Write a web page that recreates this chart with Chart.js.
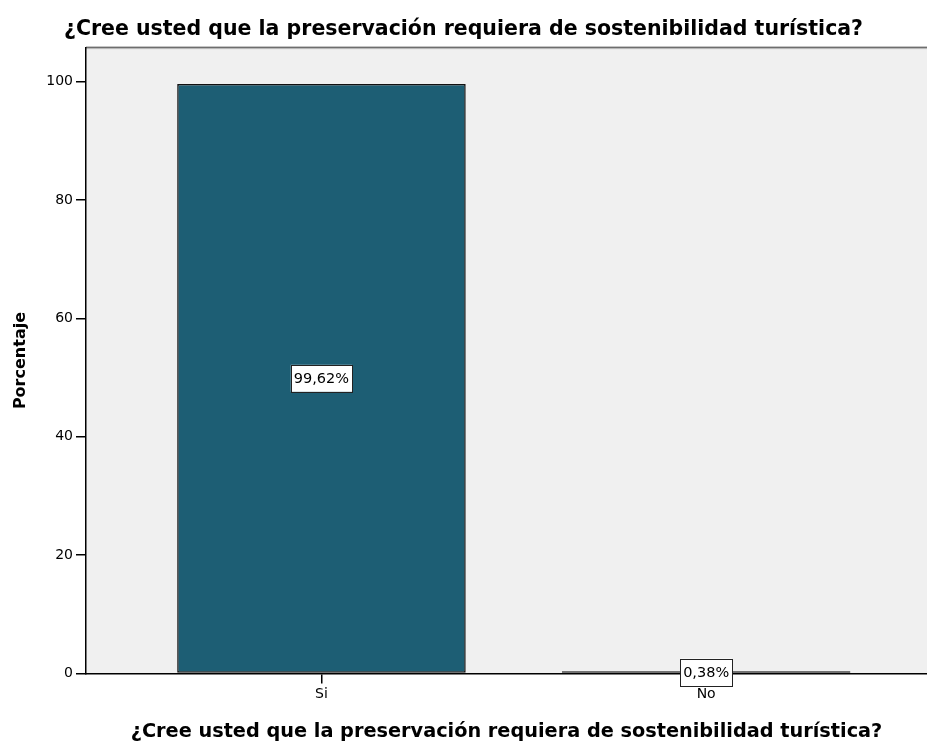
<!DOCTYPE html>
<html>
<head>
<meta charset="utf-8">
<script src="https://cdn.jsdelivr.net/npm/chart.js@4.4.1/dist/chart.umd.min.js"></script>
<style>
  html, body { margin: 0; padding: 0; background: #fff; }
  #wrap { width: 927px; height: 742px; }
</style>
</head>
<body>
<div id="wrap"><canvas id="chart"></canvas></div>
<script>
// ─── Data ──────────────────────────────────────────────────────────────
const question    = "¿Cree usted que la preservación requiera de sostenibilidad turística?";
const categories  = ["Si", "No"];
const percentages = [99.62, 0.38];
const valueLabels = ["99,62%", "0,38%"];
const yTicks      = [0, 20, 40, 60, 80, 100];

const FONT = "'DejaVu Sans', 'Liberation Sans', Arial, sans-serif";

// plot frame: grey panel, top rule, bottom axis up to the edge
const framePlugin = {
  id: "frame",
  beforeDraw(chart) {
    const { ctx, chartArea: a } = chart;
    ctx.save();
    ctx.fillStyle = "#f0f0f0";
    ctx.fillRect(a.left, a.top, chart.width - a.left, a.bottom - a.top);
    ctx.fillStyle = "#6e6e6e";
    ctx.fillRect(a.left, a.top - 1, chart.width - a.left, 1.5);
    ctx.fillStyle = "#b4b4b4";
    ctx.fillRect(a.left, a.top + 0.5, chart.width - a.left, 1);
    ctx.restore();
  }
};

// boxed value labels in the middle of each bar
const boxLabels = {
  id: "boxLabels",
  afterDatasetsDraw(chart) {
    const { ctx } = chart;
    const meta = chart.getDatasetMeta(0);
    ctx.save();
    ctx.font = "14.5px " + FONT;
    ctx.textAlign = "center";
    ctx.textBaseline = "middle";
    meta.data.forEach((bar, i) => {
      const txt = valueLabels[i];
      const cx = bar.x;
      const cy = (bar.y + bar.base) / 2;
      const w = ctx.measureText(txt).width + 6;
      const h = 27;
      ctx.fillStyle = "#fff";
      ctx.fillRect(cx - w / 2, cy - h / 2, w, h);
      ctx.strokeStyle = "#222";
      ctx.lineWidth = 1;
      ctx.strokeRect(Math.round(cx - w / 2) + 0.5, Math.round(cy - h / 2) + 0.5, Math.round(w), h);
      ctx.fillStyle = "#000";
      ctx.fillText(txt, cx, cy + 1);
    });
    ctx.restore();
  }
};

new Chart(document.getElementById("chart"), {
  type: "bar",
  data: {
    datasets: [{
      data: percentages.map((v, i) => ({ x: i, y: v })),
      backgroundColor: "#1d5e74",
      borderColor: "#111",
      borderWidth: 1.5,
      borderSkipped: false,
      barPercentage: 0.75,
      categoryPercentage: 1
    }]
  },
  options: {
    responsive: true,
    maintainAspectRatio: false,
    animation: false,
    layout: { padding: 0 },
    plugins: {
      legend: { display: false },
      tooltip: { enabled: false },
      title: {
        display: true,
        text: question,
        color: "#000",
        font: { family: FONT, size: 20.5, weight: "bold", lineHeight: 1.2 },
        padding: { top: 17, bottom: 6 }
      }
    },
    scales: {
      x: {
        type: "linear",
        offset: false,
        min: -0.612,
        max: 1.574,
        afterBuildTicks: s => { s.ticks = categories.map((c, i) => ({ value: i })); },
        afterFit: s => { s.height = 68.5; },
        grid: { offset: false, drawOnChartArea: false, drawTicks: true, tickLength: 10, color: "#000", lineWidth: 1.5 },
        border: { color: "#000", width: 1.5 },
        ticks: {
          callback: v => categories[v],
          color: "#000",
          padding: 2,
          maxRotation: 0,
          font: { family: FONT, size: 14 }
        },
        title: {
          display: true,
          text: question,
          color: "#000",
          font: { family: FONT, size: 19.3, weight: "bold", lineHeight: 1 },
          padding: { top: 0, bottom: 0 }
        }
      },
      y: {
        min: 0,
        max: 105.75,
        afterBuildTicks: s => { s.ticks = yTicks.map(v => ({ value: v })); },
        afterFit: s => { s.width = 86; },
        grid: { drawOnChartArea: false, drawTicks: true, tickLength: 10, color: "#000", lineWidth: 1.5 },
        border: { color: "#000", width: 1.5 },
        ticks: { color: "#000", padding: 3, font: { family: FONT, size: 14 } },
        title: {
          display: true,
          text: "Porcentaje",
          color: "#000",
          font: { family: FONT, size: 16, weight: "bold", lineHeight: 1.2 },
          padding: { top: 11, bottom: 0 }
        }
      }
    }
  },
  plugins: [framePlugin, boxLabels]
});
</script>
</body>
</html>
